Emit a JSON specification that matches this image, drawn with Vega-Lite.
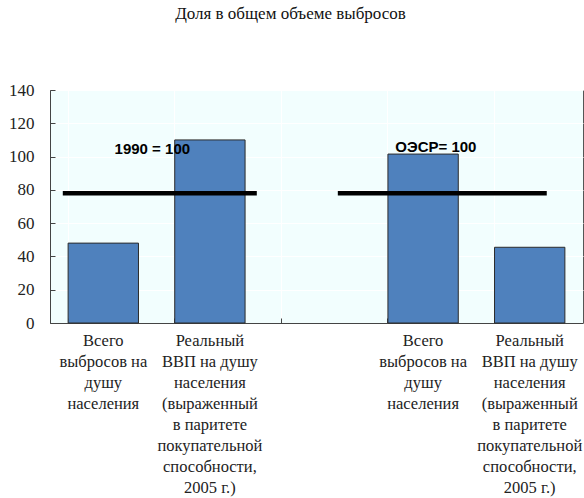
{
  "$schema": "https://vega.github.io/schema/vega-lite/v6.json",
  "autosize": {"type": "none"},
  "padding": {"left": 50, "top": 90, "right": 1, "bottom": 175},
  "width": 533,
  "height": 233,
  "background": "white",
  "title": {
    "text": "Доля в общем объеме выбросов",
    "font": "Liberation Sans Narrow",
    "fontSize": 17,
    "fontWeight": "normal",
    "color": "#111",
    "anchor": "middle",
    "dx": -26,
    "offset": 58
  },
  "config": {
    "view": {"fill": "#F2FEFE", "stroke": "#555", "strokeWidth": 1},
    "axis": {
      "labelFont": "Liberation Sans Narrow",
      "labelColor": "#222",
      "domainColor": "#444",
      "tickColor": "#444",
      "gridColor": "#FFFFFF",
      "gridOpacity": 1
    },
    "axisY": {"labelOverlap": false, "labelFlush": false}
  },
  "datasets": {
    "bars": [
      {"slot": "A1", "value": 48},
      {"slot": "A2", "value": 110},
      {"slot": "B1", "value": 101.5},
      {"slot": "B2", "value": 45.5}
    ],
    "lines": [
      {"x": 0.12, "x2": 1.94, "value": 78},
      {"x": 2.7, "x2": 4.66, "value": 78}
    ],
    "notes": [
      {"x": 0.96, "value": 104.5, "label": "1990 = 100"},
      {"x": 3.62, "value": 105.5, "label": "ОЭСР= 100"}
    ]
  },
  "resolve": {"scale": {"x": "independent"}},
  "encoding": {
    "y": {
      "field": "value",
      "type": "quantitative",
      "scale": {"domain": [0, 140], "nice": false},
      "axis": {
        "title": null,
        "values": [0, 20, 40, 60, 80, 100, 120, 140],
        "labelFontSize": 17,
        "labelPadding": 21,
        "labelOverlap": false,
        "labelFlush": false,
        "tickSize": -5,
        "grid": true
      }
    }
  },
  "layer": [
    {
      "data": {"name": "bars"},
      "mark": {"type": "bar", "color": "#4F81BD", "stroke": "#2B2B2B", "strokeWidth": 1},
      "encoding": {
        "x": {
          "field": "slot",
          "type": "nominal",
          "scale": {"domain": ["A1", "A2", "gap", "B1", "B2"], "paddingInner": 0.34, "paddingOuter": 0.17},
          "axis": {
            "title": null,
            "labelAngle": 0,
            "labelFontSize": 16.5,
            "labelLineHeight": 21,
            "labelBaseline": "alphabetic",
            "labelPadding": 27,
            "labelOverlap": false,
            "tickSize": -5,
            "bandPosition": 0,
            "grid": true,
            "labelExpr": "datum.value == 'gap' ? '' : (substring(datum.value, 1) == '1' ? ['Всего', 'выбросов на', 'душу', 'населения'] : ['Реальный', 'ВВП на душу', 'населения', '(выраженный', 'в паритете', 'покупательной', 'способности,', '2005 г.)'])"
          }
        }
      }
    },
    {
      "data": {"name": "lines"},
      "mark": {"type": "rule", "color": "#000000", "strokeWidth": 4.5},
      "encoding": {
        "x": {"field": "x", "type": "quantitative", "scale": {"domain": [0, 5], "nice": false, "zero": false}, "axis": null},
        "x2": {"field": "x2"}
      }
    },
    {
      "data": {"name": "notes"},
      "mark": {"type": "text", "font": "Liberation Sans", "fontSize": 15, "fontWeight": "bold", "color": "#000000"},
      "encoding": {
        "x": {"field": "x", "type": "quantitative", "scale": {"domain": [0, 5], "nice": false, "zero": false}, "axis": null},
        "text": {"field": "label"}
      }
    }
  ]
}
